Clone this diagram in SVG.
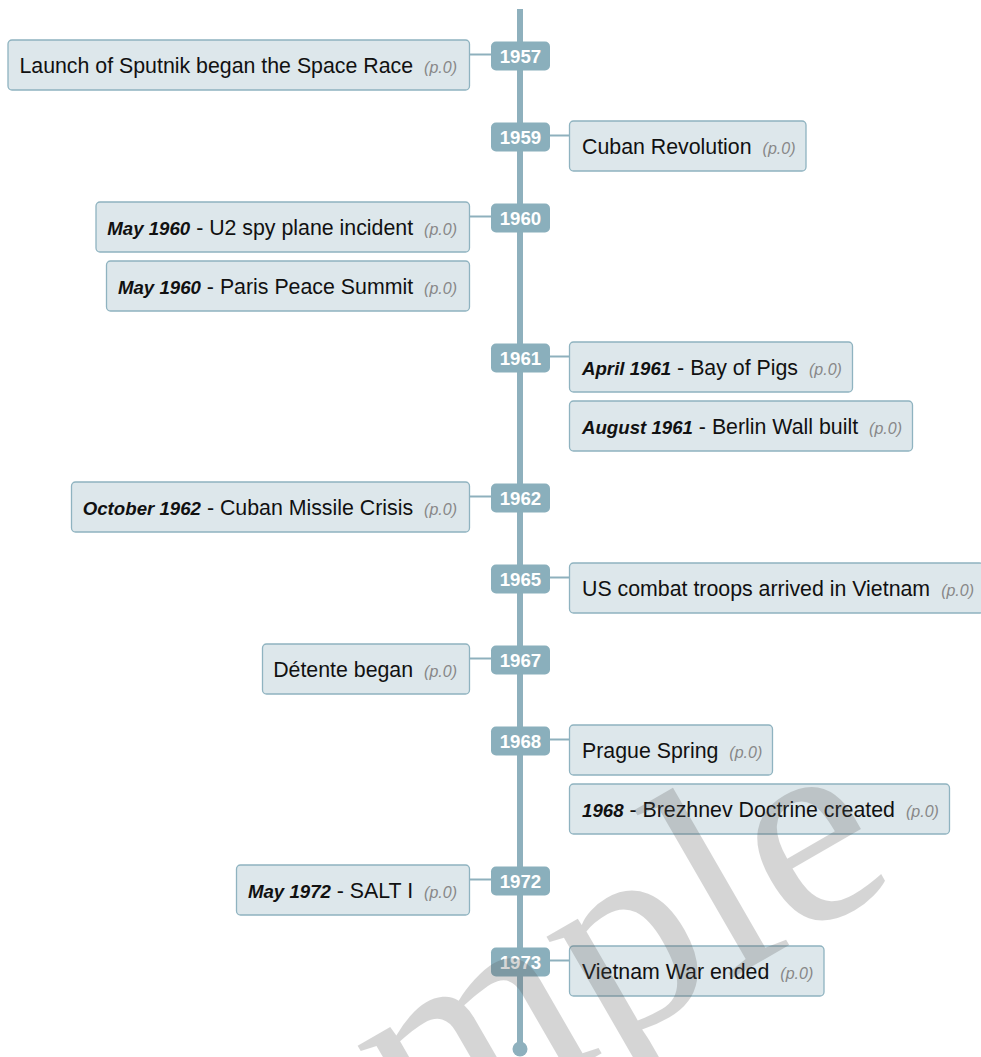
<svg xmlns="http://www.w3.org/2000/svg" width="981" height="1057" viewBox="0 0 981 1057">
<style>
.box{fill:#dde7eb;stroke:#8fb3c0;stroke-width:1.3}
.badge{fill:#8aafbc}
.yr{font-family:"Liberation Sans",Arial,sans-serif;font-size:18.67px;font-weight:bold;fill:#ffffff;text-anchor:middle}
.t{font-family:"Liberation Sans",Arial,sans-serif;font-size:21.33px;fill:#111111}
.l{text-anchor:end}
.d{font-size:18.67px;font-weight:bold;font-style:italic}
.p{font-size:16px;font-style:italic;fill:#888888}
.conn{stroke:#8eb0bd;stroke-width:2;fill:none}
.axis{stroke:#8eb0bd;stroke-width:6;fill:none}
.wm{font-family:"Liberation Serif","Times New Roman",serif;font-size:280px;fill:#555555;opacity:0.24;text-anchor:middle}
</style>
<rect width="981" height="1057" fill="#ffffff"/>
<g id="connectors">
<line class="axis" x1="520" y1="9" x2="520" y2="1048"/>
<circle cx="520" cy="1049" r="7.5" fill="#8eb0bd"/>
<line class="conn" x1="469.5" y1="54.5" x2="491" y2="54.5"/>
<line class="conn" x1="550" y1="135.5" x2="569.5" y2="135.5"/>
<line class="conn" x1="469.5" y1="216.5" x2="491" y2="216.5"/>
<line class="conn" x1="550" y1="356.5" x2="569.5" y2="356.5"/>
<line class="conn" x1="469.5" y1="496.5" x2="491" y2="496.5"/>
<line class="conn" x1="550" y1="577.5" x2="569.5" y2="577.5"/>
<line class="conn" x1="469.5" y1="658.5" x2="491" y2="658.5"/>
<line class="conn" x1="550" y1="739.5" x2="569.5" y2="739.5"/>
<line class="conn" x1="469.5" y1="879.5" x2="491" y2="879.5"/>
<line class="conn" x1="550" y1="960.5" x2="569.5" y2="960.5"/>
</g>
<g id="y1957"><rect class="badge" x="491" y="41.5" width="59" height="29" rx="5"/><text class="yr" x="520.5" y="62.5">1957</text></g>
<g id="y1959"><rect class="badge" x="491" y="122.5" width="59" height="29" rx="5"/><text class="yr" x="520.5" y="143.5">1959</text></g>
<g id="y1960"><rect class="badge" x="491" y="203.5" width="59" height="29" rx="5"/><text class="yr" x="520.5" y="224.5">1960</text></g>
<g id="y1961"><rect class="badge" x="491" y="343.5" width="59" height="29" rx="5"/><text class="yr" x="520.5" y="364.5">1961</text></g>
<g id="y1962"><rect class="badge" x="491" y="483.5" width="59" height="29" rx="5"/><text class="yr" x="520.5" y="504.5">1962</text></g>
<g id="y1965"><rect class="badge" x="491" y="564.5" width="59" height="29" rx="5"/><text class="yr" x="520.5" y="585.5">1965</text></g>
<g id="y1967"><rect class="badge" x="491" y="645.5" width="59" height="29" rx="5"/><text class="yr" x="520.5" y="666.5">1967</text></g>
<g id="y1968"><rect class="badge" x="491" y="726.5" width="59" height="29" rx="5"/><text class="yr" x="520.5" y="747.5">1968</text></g>
<g id="y1972"><rect class="badge" x="491" y="866.5" width="59" height="29" rx="5"/><text class="yr" x="520.5" y="887.5">1972</text></g>
<g id="y1973"><rect class="badge" x="491" y="947.5" width="59" height="29" rx="5"/><text class="yr" x="520.5" y="968.5">1973</text></g>

<g id="e-sputnik"><rect class="box" x="8" y="40" width="461.5" height="50" rx="4"/><text class="t l" x="457" y="72.5">Launch of Sputnik began the Space Race<tspan class="p" dx="11">(p.0)</tspan></text></g>
<g id="e-cuban"><rect class="box" x="569.5" y="121" width="236.5" height="50" rx="4"/><text class="t" x="582" y="153.5">Cuban Revolution<tspan class="p" dx="11">(p.0)</tspan></text></g>
<g id="e-u2"><rect class="box" x="96" y="202" width="373.5" height="50" rx="4"/><text class="t l" x="457" y="234.5"><tspan class="d">May 1960</tspan> - U2 spy plane incident<tspan class="p" dx="11">(p.0)</tspan></text></g>
<g id="e-paris"><rect class="box" x="106.5" y="261" width="363" height="50" rx="4"/><text class="t l" x="457" y="293.5"><tspan class="d">May 1960</tspan> - Paris Peace Summit<tspan class="p" dx="11">(p.0)</tspan></text></g>
<g id="e-pigs"><rect class="box" x="569.5" y="342" width="283" height="50" rx="4"/><text class="t" x="582" y="374.5"><tspan class="d">April 1961</tspan> - Bay of Pigs<tspan class="p" dx="11">(p.0)</tspan></text></g>
<g id="e-berlin"><rect class="box" x="569.5" y="401" width="343" height="50" rx="4"/><text class="t" x="582" y="433.5"><tspan class="d">August 1961</tspan> - Berlin Wall built<tspan class="p" dx="11">(p.0)</tspan></text></g>
<g id="e-missile"><rect class="box" x="71.5" y="482" width="398" height="50" rx="4"/><text class="t l" x="457" y="514.5"><tspan class="d">October 1962</tspan> - Cuban Missile Crisis<tspan class="p" dx="11">(p.0)</tspan></text></g>
<g id="e-vietnam"><rect class="box" x="569.5" y="563" width="414" height="50" rx="4"/><text class="t" x="582" y="595.5">US combat troops arrived in Vietnam<tspan class="p" dx="11">(p.0)</tspan></text></g>
<g id="e-detente"><rect class="box" x="262.5" y="644" width="207" height="50" rx="4"/><text class="t l" x="457" y="676.5">Détente began<tspan class="p" dx="11">(p.0)</tspan></text></g>
<g id="e-prague"><rect class="box" x="569.5" y="725" width="203" height="50" rx="4"/><text class="t" x="582" y="757.5">Prague Spring<tspan class="p" dx="11">(p.0)</tspan></text></g>
<g id="e-brezhnev"><rect class="box" x="569.5" y="784" width="380" height="50" rx="4"/><text class="t" x="582" y="816.5"><tspan class="d">1968</tspan> - Brezhnev Doctrine created<tspan class="p" dx="11">(p.0)</tspan></text></g>
<g id="e-salt"><rect class="box" x="236.5" y="865" width="233" height="50" rx="4"/><text class="t l" x="457" y="897.5"><tspan class="d">May 1972</tspan> - SALT I<tspan class="p" dx="11">(p.0)</tspan></text></g>
<g id="e-vietend"><rect class="box" x="569.5" y="946" width="254.5" height="50" rx="4"/><text class="t" x="582" y="978.5">Vietnam War ended<tspan class="p" dx="11">(p.0)</tspan></text></g>

<text class="wm" transform="translate(538,1090) rotate(-30)" x="0" y="0">Sample</text>
</svg>
